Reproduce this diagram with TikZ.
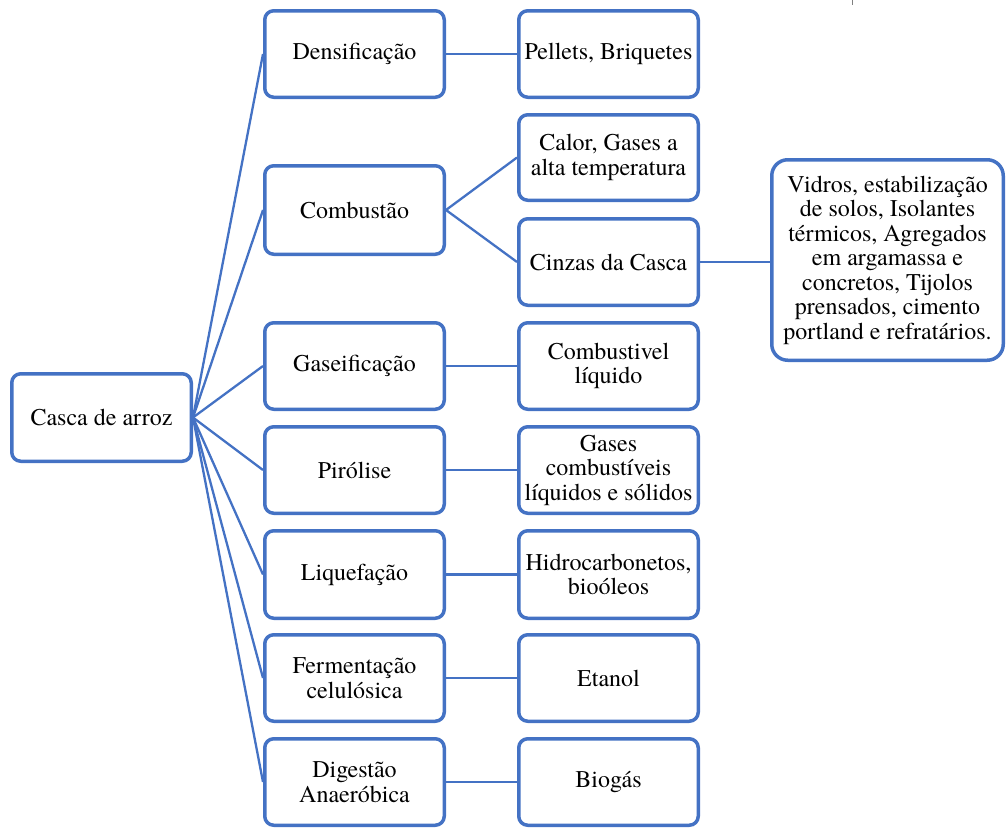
\documentclass[tikz,border=0pt]{standalone}
\usepackage{fontspec}
\setmainfont{texgyretermes}[Extension=.otf, UprightFont=*-regular, BoldFont=*-bold, ItalicFont=*-italic, BoldItalicFont=*-bolditalic]
\definecolor{boxblue}{RGB}{68,114,196}
\pgfdeclarelayer{bg}
\pgfsetlayers{bg,main}
\begin{document}
\begin{tikzpicture}[x=1pt,y=-1pt,
  box/.style={draw=boxblue, line width=3.5pt, rounded corners=9pt, fill=white,
    minimum width=179.5pt, minimum height=86.5pt, align=center, inner sep=2pt,
    font=\fontsize{24}{24.5}\selectfont},
  bigbox/.style={box, rounded corners=16pt, minimum width=231.5pt, minimum height=200.5pt},
  link/.style={draw=boxblue, line width=2.3pt}]
\useasboundingbox (0,0) rectangle (1006,827);
\clip (0,0) rectangle (1006,827);
% nodes
\node[box, minimum height=87.5pt] (casca) at (101.5,417.5) {Casca de arroz};
\node[box] (dens) at (354.5,54) {Densificação};
\node[box, minimum height=88.5pt] (comb) at (354.5,210) {Combustão};
\node[box] (gas) at (354.5,366) {Gaseificação};
\node[box] (pir) at (354.5,470) {Pirólise};
\node[box, minimum height=87.5pt] (liq) at (354.5,574.5) {Liquefação};
\node[box] (ferm) at (354.5,678) {Fermentação\\celulósica};
\node[box] (dig) at (354.5,782) {Digestão\\Anaeróbica};
\node[box] (pel) at (608.5,54) {Pellets, Briquetes};
\node[box, minimum height=85.5pt] (calor) at (608.5,157.5) {Calor, Gases a\\alta temperatura};
\node[box] (cinz) at (608.5,262) {Cinzas da Casca};
\node[box] (cliq) at (608.5,366) {Combustivel\\líquido};
\node[box] (gcomb) at (608.5,470) {Gases\\combustíveis\\líquidos e sólidos};
\node[box, minimum height=87.5pt] (hidro) at (608.5,574.5) {Hidrocarbonetos,\\bioóleos};
\node[box] (etan) at (608.5,678) {Etanol};
\node[box] (biog) at (608.5,782) {Biogás};
\node[bigbox] (vid) at (887.5,260) {Vidros, estabilização\\de solos, Isolantes\\térmicos, Agregados\\em argamassa e\\concretos, Tijolos\\prensados, cimento\\portland e refratários.};
% connectors (behind boxes)
\begin{pgfonlayer}{bg}
\foreach \n in {dens,comb,gas,pir,liq,ferm,dig}{
  \draw[link] (casca.east) -- (\n.west);
}
\draw[link] (comb.east) -- (calor.west);
\draw[link] (comb.east) -- (cinz.west);
\draw[link] (dens.east) -- (pel.west);
\draw[link] (gas.east) -- (cliq.west);
\draw[link] (pir.east) -- (gcomb.west);
\draw[link] (liq.east) -- (hidro.west);
\draw[link] (ferm.east) -- (etan.west);
\draw[link] (dig.east) -- (biog.west);
\draw[link] (cinz.east) -- (cinz.east -| vid.west);
\end{pgfonlayer}
% stray tick at top
\draw[gray, line width=0.8pt] (852,0) -- (852,5);
\end{tikzpicture}
\end{document}
